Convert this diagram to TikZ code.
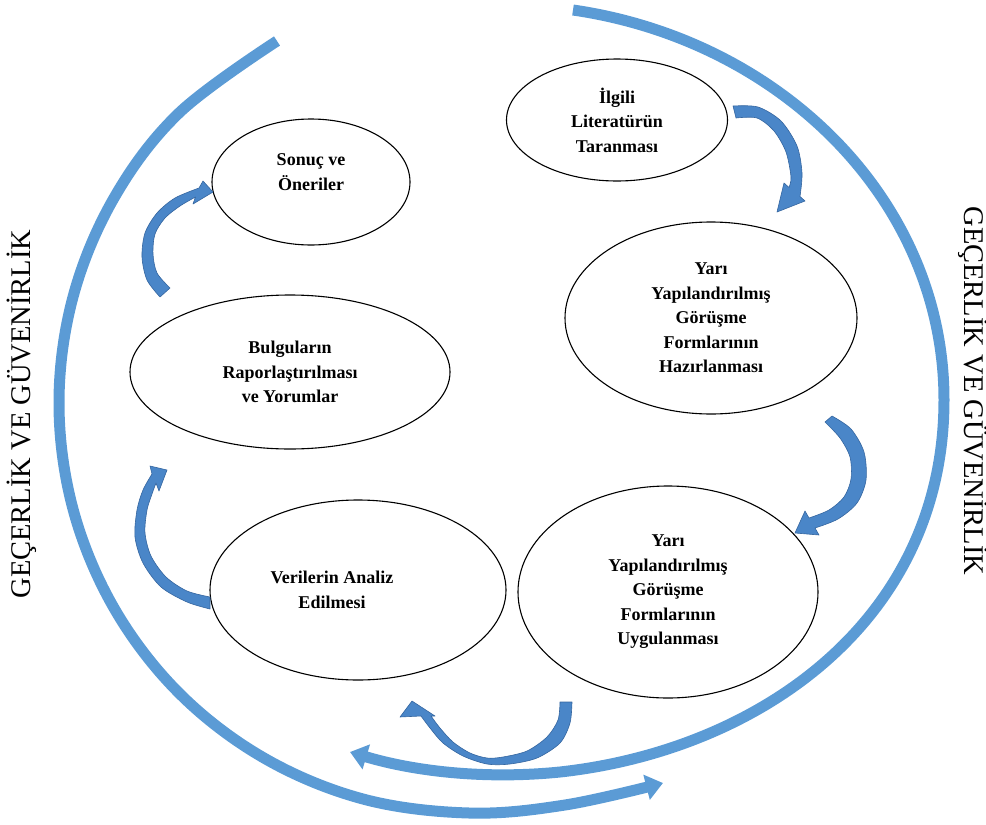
\documentclass[tikz,border=0pt]{standalone}
\usepackage{fontspec}
\setmainfont{Liberation Serif}
\usetikzlibrary{arrows.meta,shapes.geometric}

\definecolor{ringblue}{HTML}{5B9BD5}
\definecolor{arrowblue}{HTML}{4A86C8}
\definecolor{arrowedge}{HTML}{3566A0}

\begin{document}
\begin{tikzpicture}[x=1pt,y=-1pt,
  stage/.style={draw=black, line width=1.1pt, ellipse, align=center,
    font=\bfseries\fontsize{18}{24.5}\selectfont, inner sep=0pt},
  stagetext/.style={align=center, font=\bfseries\fontsize{18}{24.5}\selectfont, inner sep=0pt},
  ring/.style={draw=ringblue, line width=11pt,
    -{Triangle[length=17pt,width=25pt]}},
  blockarrow/.style={fill=arrowblue, draw=arrowedge, line width=0.6pt, line join=round},
  sidelabel/.style={font=\fontsize{28.5}{28.5}\selectfont, inner sep=0pt}]

\useasboundingbox (0,0) rectangle (986,825);

% process stages
\node[stage, minimum width=221, minimum height=122] (lit) at (617,120) {İlgili\\Literatürün\\Taranması};
\node[stage, minimum width=198, minimum height=126] (son) at (311,182) {};
\node[stagetext] (sontext) at ([yshift=10pt]son.center) {Sonuç ve\\Öneriler};
\node[stage, minimum width=292, minimum height=192] (haz) at (711,318) {Yarı\\Yapılandırılmış\\Görüşme\\Formlarının\\Hazırlanması};
\node[stage, minimum width=320, minimum height=154] (bul) at (290,372) {Bulguların\\Raporlaştırılması\\ve Yorumlar};
\node[stage, minimum width=296, minimum height=180] (ver) at (358,590) {};
\node[stagetext] (vertext) at ([xshift=-26pt]ver.center) {Verilerin Analiz\\Edilmesi};
\node[stage, minimum width=300, minimum height=212] (uyg) at (668,592) {Yarı\\Yapılandırılmış\\Görüşme\\Formlarının\\Uygulanması};

% outer rings
\coordinate (lstart) at (277,41);
\coordinate (lend) at (663,783);
\draw[ring] plot[smooth, tension=0.6] coordinates {(lstart) (179,113) (114,198) (73,297) (59,403) (73,509) (114,608) (179,693) (264,758) (363,799) (469,813) (565,805) (lend)};

\coordinate (rstart) at (573,10);
\coordinate (rside) at (944,400);
\coordinate (rlow) at (560,772);
\coordinate (rend) at (350,752);
\draw[ring] (rstart) .. controls (780,40) and (944,200) .. (rside)
  .. controls (944,620) and (760,750) .. (rlow)
  .. controls (480,780) and (410,770) .. (rend);

% side labels
\node[sidelabel, rotate=90] (leftlab) at (22,414) {GEÇERLİK VE GÜVENİRLİK};
\node[sidelabel, rotate=-90] (rightlab) at (973,391) {GEÇERLİK VE GÜVENİRLİK};

% curved block arrows between stages
\filldraw[blockarrow] plot[smooth] coordinates {(733,106) (758,107) (781,121) (797,146) (802,173) (800,196.5)}
  -- (805,201) -- (777,212) -- (784,183) -- (789,187.5)
  -- plot[smooth] coordinates {(789,187.5) (791,177) (786,152) (774,131) (757,118) (736,118)} -- cycle;

\filldraw[blockarrow] plot[smooth] coordinates {(832,416) (851,429) (864,452) (866,480) (857,503) (838,519) (815,528)}
  -- (819,535) -- (795,533) -- (805,511) -- (809,518)
  -- plot[smooth] coordinates {(809,518) (829,510) (844,497) (851,479) (850,457) (840,438) (825,422)} -- cycle;

\filldraw[blockarrow] plot[smooth] coordinates {(572,702) (570,723) (560,743) (537,758) (510,764) (487,764) (463,756) (443,743) (430,728) (421,716)}
  -- (400,717) -- (412,701) -- (435,716) -- (431,716)
  -- plot[smooth] coordinates {(431,716) (440,728) (453,742) (470,753) (487,758) (503,757) (527,751) (547,737) (558,720) (560,702)} -- cycle;

\filldraw[blockarrow] plot[smooth] coordinates {(210,609) (187,602) (161,587) (143,563) (135,537) (137,510) (143,490) (152,474)}
  -- (150,466) -- (167,470) -- (159,491) -- (156,483)
  -- plot[smooth] coordinates {(156,483) (152,494) (147,510) (145,533) (151,556) (166,577) (187,591) (210,597)} -- cycle;

\filldraw[blockarrow] plot[smooth] coordinates {(160,297) (147,280) (142,257) (145,233) (157,213) (175,198) (199,188)}
  -- (203,181) -- (213,192) -- (193,204) -- (195.5,197)
  -- plot[smooth] coordinates {(195.5,197) (180,206) (165,218) (155,234) (153,254) (157,273) (170,288)} -- cycle;

\end{tikzpicture}
\end{document}
